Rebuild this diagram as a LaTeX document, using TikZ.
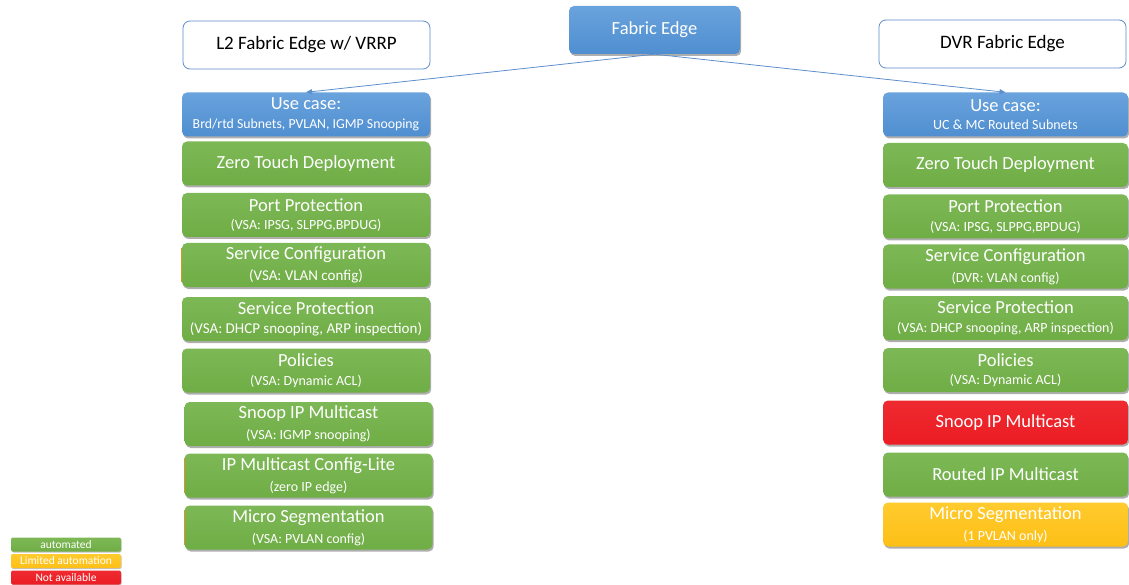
\documentclass[tikz,border=0pt]{standalone}
\usepackage{fontspec}
\setmainfont{Carlito}
\usetikzlibrary{arrows.meta,shadows}

\definecolor{fegreen}{HTML}{6FAD45}
\definecolor{fegreentop}{HTML}{7DB856}
\definecolor{feblue}{HTML}{4F8ED0}
\definecolor{febluetop}{HTML}{6AA3DD}
\definecolor{fered}{HTML}{EC1C24}
\definecolor{feredtop}{HTML}{EE2A30}
\definecolor{feyellow}{HTML}{FDBF16}
\definecolor{feyellowtop}{HTML}{FFCB2E}
\definecolor{feborder}{HTML}{5B8CCB}
\definecolor{fearrow}{HTML}{5D8FCB}
\definecolor{feedge}{HTML}{D6952C}

\newcommand{\maintxt}{\fontsize{18.5}{19}\selectfont}
\newcommand{\subtxt}{\fontsize{14}{14}\selectfont}
\newcommand{\subwide}{\fontsize{15}{15}\selectfont}
\newcommand{\gap}{\\[6.5pt]}

\tikzset{
  card/.style={rectangle, rounded corners=5pt, minimum height=44pt,
    text=white, align=center, inner sep=1pt,
    drop shadow={shadow xshift=1.2pt, shadow yshift=-2pt, opacity=0.45, fill=black!70}},
  greencard/.style={card, top color=fegreentop, bottom color=fegreen},
  bluecard/.style={card, top color=febluetop, bottom color=feblue},
  redcard/.style={card, top color=feredtop, bottom color=fered},
  yellowcard/.style={card, top color=feyellowtop, bottom color=feyellow},
  leftcol/.style={minimum width=248pt},
  rightcol/.style={minimum width=245pt},
  header/.style={rectangle, rounded corners=7pt, draw=feborder, line width=0.8pt,
    fill=white, minimum width=247pt, minimum height=48pt, font=\fontsize{19}{20}\selectfont},
  link/.style={draw=fearrow, line width=0.8pt, -{Triangle[length=6pt,width=5pt]}},
  legend/.style={rectangle, rounded corners=2pt, minimum width=110pt, minimum height=14pt,
    inner sep=0pt, text=white, font=\fontsize{11.5}{12}\selectfont,
    drop shadow={shadow xshift=0.6pt, shadow yshift=-1pt, opacity=0.35, fill=black!70}},
  edgemark/.style={draw=feedge, line width=1.3pt}
}

\begin{document}
\begin{tikzpicture}[x=1pt, y=-1pt]
\useasboundingbox (0,0) rectangle (1129,585);

% top of the tree
\node[bluecard, minimum width=171pt, minimum height=48pt, font=\maintxt] (fe) at (654.5,30) {Fabric Edge};

% column titles
\node[header] (l2) at (306.5,45) {L2 Fabric Edge w/ VRRP};
\node[header] (dvr) at (1002.5,44) {DVR Fabric Edge};

% L2 fabric edge column
\node[bluecard, leftcol] (luse) at (306,114.5) {\maintxt Use case:\gap\fontsize{13.8}{14}\selectfont Brd/rtd Subnets, PVLAN, IGMP Snooping};
\node[greencard, leftcol] (lztd) at (306,163.5) {\maintxt Zero Touch Deployment};
\node[greencard, leftcol] (lport) at (306,215) {\maintxt Port Protection\gap\subtxt (VSA: IPSG, SLPPG,BPDUG)};
\node[greencard, leftcol] (lsc) at (306,265) {\maintxt Service Configuration\gap\subwide (VSA: VLAN config)};
\node[greencard, leftcol] (lsp) at (306,319) {\maintxt Service Protection\gap\subwide (VSA: DHCP snooping, ARP inspection)};
\node[greencard, leftcol] (lpol) at (306,370.5) {\maintxt Policies\gap\subtxt (VSA: Dynamic ACL)};
\node[greencard, leftcol] (lsnoop) at (308.5,424) {\maintxt Snoop IP Multicast\gap\subtxt (VSA: IGMP snooping)};
\node[greencard, leftcol] (lipmc) at (308.5,475.5) {\maintxt IP Multicast Config-Lite\gap\subtxt (zero IP edge)};
\node[greencard, leftcol] (lmicro) at (308.5,527.5) {\maintxt Micro Segmentation\gap\subtxt (VSA: PVLAN config)};

% thin orange edges on the left of three cards
\draw[edgemark] ([yshift=-5pt]lsc.north west) -- ([yshift=5pt]lsc.south west);
\draw[edgemark] ([yshift=-5pt]lipmc.north west) -- ([yshift=5pt]lipmc.south west);
\draw[edgemark] ([yshift=-5pt]lmicro.north west) -- ([yshift=5pt]lmicro.south west);

% DVR fabric edge column
\node[bluecard, rightcol] (ruse) at (1005.5,114.5) {\maintxt Use case:\gap\subtxt UC \& MC Routed Subnets};
\node[greencard, rightcol] (rztd) at (1005.5,165) {\maintxt Zero Touch Deployment};
\node[greencard, rightcol] (rport) at (1005.5,216.5) {\maintxt Port Protection\gap\subtxt (VSA: IPSG, SLPPG,BPDUG)};
\node[greencard, rightcol] (rsc) at (1005.5,266.5) {\maintxt Service Configuration\gap\subtxt (DVR: VLAN config)};
\node[greencard, rightcol] (rsp) at (1005.5,318) {\maintxt Service Protection\gap\subtxt (VSA: DHCP snooping, ARP inspection)};
\node[greencard, rightcol] (rpol) at (1005.5,370) {\maintxt Policies\gap\subtxt (VSA: Dynamic ACL)};
\node[redcard, rightcol] (rsnoop) at (1005.5,422.5) {\maintxt Snoop IP Multicast};
\node[greencard, rightcol] (rrouted) at (1005.5,474.5) {\maintxt Routed IP Multicast};
\node[yellowcard, rightcol] (rmicro) at (1005.5,524.5) {\maintxt Micro Segmentation\gap\subtxt (1 PVLAN only)};

% links from the root
\draw[link] (fe.south) -- (luse.north);
\draw[link] (fe.south) -- (ruse.north);

% legend
\node[legend, top color=fegreentop, bottom color=fegreen] (kauto) at (66,544.5) {automated};
\node[legend, top color=feyellowtop, bottom color=feyellow] (klim) at (66,561) {Limited automation};
\node[legend, top color=feredtop, bottom color=fered] (kna) at (66,577.5) {Not available};
\end{tikzpicture}
\end{document}
